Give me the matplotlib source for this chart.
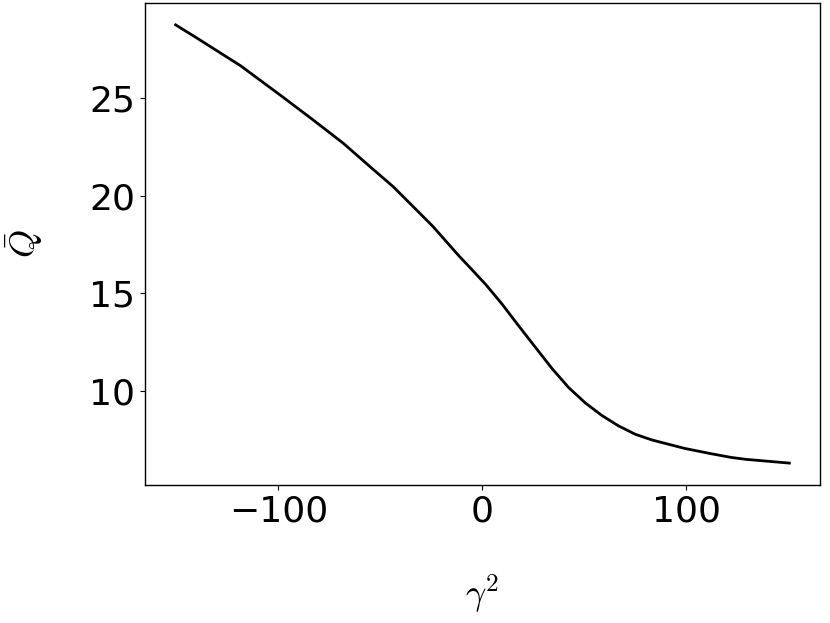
import matplotlib
matplotlib.use("Agg")
import matplotlib.pyplot as plt

gamma2 = [-150.4, -140.5, -118.5, -99.0, -82.8, -68.1, -55.1, -43.7, -32.3, -24.2,
          -11.2, -6.3, 1.8, 9.9, 18.0, 26.2, 34.3, 42.4, 50.6, 58.7, 66.8, 75.0,
          83.1, 91.2, 99.4, 112.3, 122.1, 129.5, 150.6]
q_bar = [28.76, 28.12, 26.66, 25.15, 23.87, 22.68, 21.49, 20.46, 19.27, 18.42,
         16.88, 16.34, 15.43, 14.41, 13.30, 12.20, 11.12, 10.15, 9.36, 8.72, 8.19, 7.76,
         7.47, 7.25, 7.03, 6.76, 6.57, 6.47, 6.28]

plt.rcParams['mathtext.fontset'] = 'cm'

fig = plt.figure(figsize=(8.3, 6.23), dpi=100)
ax = fig.add_axes([145/830, 1 - 485/623, 675/830, 482/623])
ax.plot(gamma2, q_bar, color='black', linewidth=2)
ax.set_xticks([-100, 0, 100])
ax.set_yticks([10, 15, 20, 25])
ax.tick_params(labelsize=26)
ax.set_xlabel(r'$\gamma^2$', fontsize=26, labelpad=32)
ax.set_ylabel(r'$\bar{Q}$', fontsize=26, labelpad=32)
for s in ax.spines.values():
    s.set_linewidth(1.0)
fig.savefig('out.png', dpi=100)
